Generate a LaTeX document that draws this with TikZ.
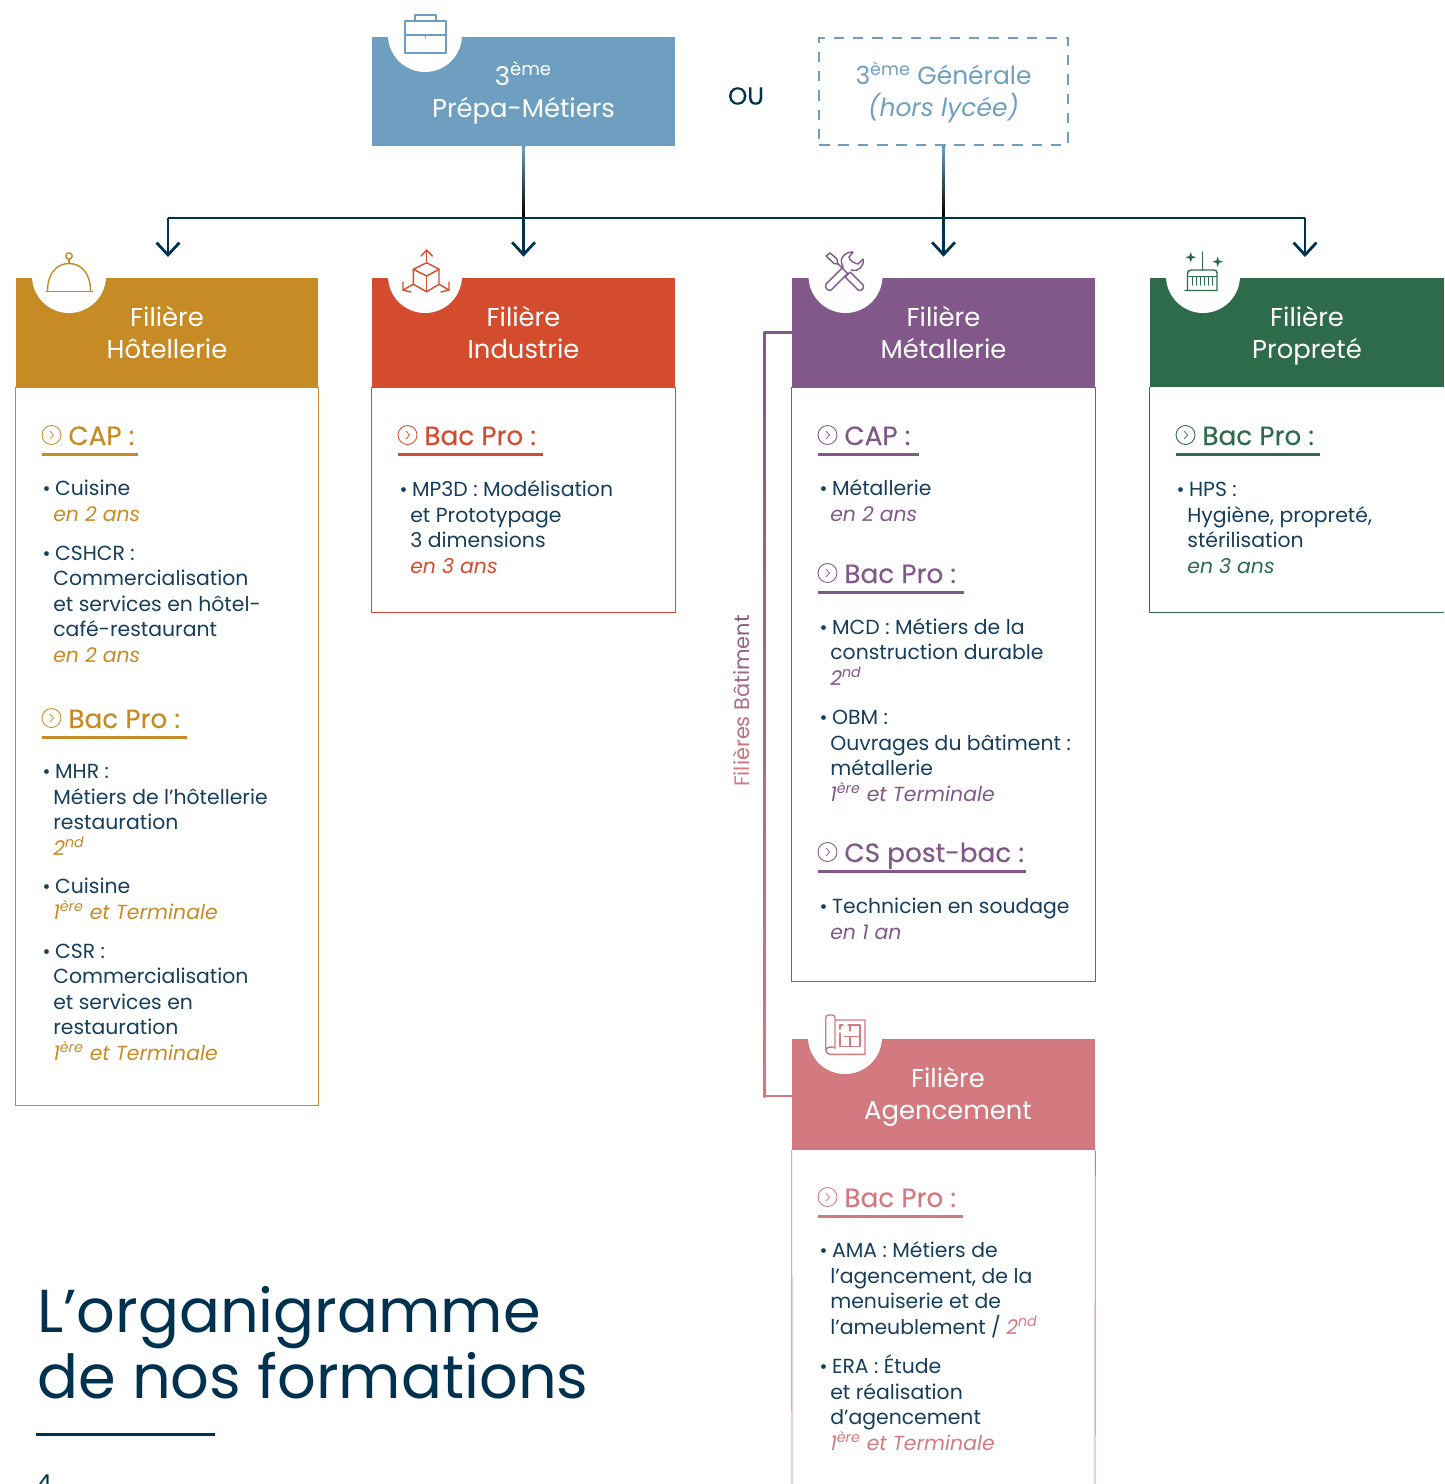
\documentclass[tikz,border=0pt]{standalone}
\usepackage{fontspec}
\setmainfont{Poppins}
\usetikzlibrary{calc, arrows.meta}

\definecolor{bleu}{HTML}{6E9FC1}
\definecolor{ocre}{HTML}{C78B25}
\definecolor{brique}{HTML}{D24C2D}
\definecolor{violet}{HTML}{82578A}
\definecolor{sapin}{HTML}{2D6B4A}
\definecolor{rose}{HTML}{D37A80}
\definecolor{marine}{HTML}{00324F}
\definecolor{encre}{HTML}{163E5C}

\tikzset{
  entete/.style={rectangle, fill=#1, text=white, minimum width=6.04cm, minimum height=2.18cm, inner sep=0pt, align=center, text depth=0pt, font=\fontsize{14.7}{18.2}\selectfont},
  cadre/.style={draw=#1, line width=0.5pt},
  corps/.style={anchor=base west, inner sep=0pt, align=left, text=encre, font=\fontsize{11.6}{14.5}\selectfont, execute at begin node={\colorlet{accent}{#1}}},
  titre/.style={anchor=base west, inner sep=0pt, text=#1, font=\fontsize{15}{18}\selectfont\addfontfeatures{FakeBold=0.3}},
  filet/.style={draw=marine, line width=1.7pt},
  fleche/.style={draw=marine, line width=1.2pt, -{Straight Barb[length=7pt,width=13pt,line width=1.6pt]}, shorten >=0.42cm},
  trait/.style={draw=#1, line width=0.8pt, line join=round, line cap=round}
}

\newcommand{\puce}{\leavevmode\llap{{\fontsize{11}{8}\selectfont\textbullet}\hspace{1.6pt}}\hspace*{1pt}}
\newcommand{\ans}[1]{\textcolor{accent}{\itshape #1}}
\newcommand{\rubrique}[6]{
  \node (#2) [titre=#1] at (#3+26,#4) {#6};
  \draw [draw=#1, line width=0.5pt] (#3+9.5,#4-10) circle (0.19cm);
  \draw [draw=#1, line width=0.4pt] (#3+8,#4-14) -- (#3+11.5,#4-10) -- (#3+8,#4-6);
  \draw [draw=#1, line width=1.4pt] (#3,#4+9.5) -- (#5,#4+9.5);
}

\begin{document}
\begin{tikzpicture}[x=0.02cm, y=-0.02cm]

    \useasboundingbox (0,0) rectangle (1444,1484);

    % en-tetes
    \node (prepa) [entete=bleu, minimum width=6.06cm, text depth=2.3pt] at (523.5,91.5) {3\textsuperscript{ème}\\Prépa-Métiers};
    \node (generale) [draw=bleu, dash pattern=on 6pt off 5pt, line width=1.6pt, minimum width=4.98cm, minimum height=2.14cm, inner sep=0pt, align=center, text=bleu, text depth=2.3pt, font=\fontsize{14.2}{18.2}\selectfont] at (943.5,91.5) {3\textsuperscript{ème} Générale\\\textit{(hors lycée)}};
    \node (ou) [text=marine, font=\fontsize{14}{16}\selectfont\addfontfeatures{FakeBold=0.2}] at (746,96) {OU};

    \node (hotel) [entete=ocre] at (167,332.5) {Filière\\Hôtellerie};
    \node (indus) [entete=brique, minimum width=6.06cm] at (523.5,332.5) {Filière\\Industrie};
    \node (metal) [entete=violet, minimum width=6.06cm] at (943.5,332.5) {Filière\\Métallerie};
    \node (propre) [entete=sapin, minimum width=5.88cm] at (1297,332.5) {\hspace*{11.4pt}Filière\\\hspace*{11.4pt}Propreté};
    \node (agenc) [entete=rose, minimum width=6.06cm, minimum height=2.22cm, text depth=1pt] at (943.5,1094.5) {\hspace*{5.1pt}Filière\\\hspace*{5.1pt}Agencement};

    % cadres
    \draw [cadre=ocre] (hotel.south west) rectangle (318,1105);
    \draw [cadre=brique] (indus.south west) rectangle (675,612);
    \draw [cadre=violet] (metal.south west) rectangle (1095,981);
    \draw [cadre=sapin] (propre.south west) |- (1444,612);
    \draw [cadre=rose] (agenc.south west) -- (792,1484);
    \draw [cadre=rose] (agenc.south east) -- (1095,1484);

    % liaisons
    \coordinate (busG) at (168,218);
    \coordinate (busD) at (1305,218);
    \coordinate (hotelH) at (168,278);
    \coordinate (propreH) at (1305,278);
    \draw [fleche] (prepa.south) -- (indus.north);
    \draw [fleche] (generale.south) -- (metal.north);
    \draw [fleche] (busG) -- (hotelH);
    \draw [fleche] (busD) -- (propreH);
    \draw [filet] (busG) -- (busD);
    \shade [top color=bleu, bottom color=black] ($(prepa.south)+(-1.1,0)$) rectangle ($(prepa.south |- busG)+(1.1,-2)$);
    \shade [top color=bleu, bottom color=black] ($(generale.south)+(-1.1,0)$) rectangle ($(generale.south |- busG)+(1.1,-2)$);

    \draw [draw=rose, line width=1.2pt] (metal.west) -- ++(-27,0) |- ($(agenc.west)+(0,1.5)$);
    \draw [draw=violet, line width=1.2pt] (metal.west) -- ++(-27,0);
    \shade [top color=violet, bottom color=rose] ($(metal.west)+(-28,-1)$) rectangle ($(agenc.west)+(-26,2.5)$);
    \node (batiment) [rotate=90, font=\fontsize{11.9}{12}\selectfont] at (741,701) {\textcolor{rose}{Fil}\textcolor{rose!85!violet}{ièr}\textcolor{rose!70!violet}{es} \textcolor{rose!55!violet}{Bâ}\textcolor{rose!40!violet}{ti}\textcolor{rose!25!violet}{me}\textcolor{rose!10!violet}{nt}};

    % encoches
    \fill [white] (425,35) circle (0.74cm);
    \fill [white] (69,276) circle (0.74cm);
    \fill [white] (425,276) circle (0.74cm);
    \fill [white] (845.5,276) circle (0.74cm);
    \fill [white] (1203,276) circle (0.74cm);
    \fill [white] (845,1037) circle (0.74cm);

    % mallette
    \draw [trait=bleu] (405,21) rectangle (446,53);
    \draw [trait=bleu] (415,21) -- (415,15) -- (436,15) -- (436,21);
    \draw [trait=bleu] (405,35) -- (446,35);
    \draw [trait=bleu] (425.5,35) -- (425.5,38);

    % cloche
    \draw [trait=ocre] (47.5,291) .. controls (47.5,272) and (58,263.5) .. (69,263.5) .. controls (80,263.5) and (90.5,272) .. (90.5,291);
    \draw [trait=ocre] (46,291.5) -- (92.5,291.5);
    \draw [trait=ocre] (69,256) circle (0.065cm);
    \draw [trait=ocre] (69,259.5) -- (69,263.5);

    % cube
    \draw [trait=brique] (426.7,262.7) -- (439,269.3) -- (439,284.3) -- (426.7,291.7) -- (413.3,284.3) -- (413.3,269.3) -- cycle;
    \draw [trait=brique] (413.3,269.3) -- (426.7,276) -- (439,269.3);
    \draw [trait=brique] (426.7,276) -- (426.7,291.7);
    \draw [trait=brique] (426.7,262.7) -- (426.7,251);
    \draw [trait=brique] (421,256) -- (426.7,250) -- (432.4,256);
    \draw [trait=brique] (413.3,284.3) -- (403,290);
    \draw [trait=brique] (403,282) -- (403,290) -- (411,292);
    \draw [trait=brique] (439,284.3) -- (449,290);
    \draw [trait=brique] (449,282) -- (449,290) -- (441,292);

    % outils
    \draw [trait=violet] (826,256) -- (830,253) -- (837,259) -- (838,264) -- (834,263.5) -- cycle;
    \draw [trait=violet] (837,263) -- (848,274);
    \draw [trait=violet] (850,272) -- (863,285) .. controls (865,288) and (861,292) .. (858,290) -- (845,277) -- cycle;
    \draw [trait=violet] (843,267) -- (826,284) .. controls (824,287) and (828,292) .. (831,290) -- (848,273);
    \draw [trait=violet] (843,267) .. controls (838,258) and (845,252) .. (853,252) -- (849,257) .. controls (850,262) and (855,263) .. (858,264) -- (863,259) .. controls (865,266) and (857,273) .. (851,270);

    % balai
    \draw [trait=sapin] (1202.7,252) -- (1202.7,270);
    \draw [trait=sapin] (1185,290.5) -- (1217,290.5) -- (1217,273) .. controls (1217,271) and (1216,270) .. (1214,270) -- (1191,270) .. controls (1188,270) and (1187.5,272) .. (1187.5,274) -- (1187.5,290.5);
    \draw [trait=sapin] (1187.5,276.7) -- (1217,276.7);
    \foreach \xb in {1192.5,1196.5,1200.5,1204.5,1208.5,1212.5}
        \draw [trait=sapin] (\xb,276.7) -- (\xb,285);
    \fill [sapin] (1190.7,252) -- (1192,256) -- (1196,257.3) -- (1192,258.6) -- (1190.7,262.6) -- (1189.4,258.6) -- (1185.4,257.3) -- (1189.4,256) -- cycle;
    \fill [sapin] (1217.7,256.4) -- (1219,260.4) -- (1223,261.7) -- (1219,263) -- (1217.7,267) -- (1216.4,263) -- (1212.4,261.7) -- (1216.4,260.4) -- cycle;

    % plan
    \draw [trait=rose] (835,1020) -- (865,1020) -- (865,1054.3) -- (830,1054.3) .. controls (827,1054.3) and (825.7,1052) .. (825.7,1050) -- (825.7,1018) .. controls (825.7,1016) and (827,1015) .. (829,1015) -- (832,1015) .. controls (834,1015) and (835,1016) .. (835,1018) -- (835,1048);
    \draw [trait=rose] (825.7,1050) .. controls (826,1047) and (832,1046) .. (835,1048);
    \draw [trait=rose] (843,1025) -- (840,1025) -- (840,1029);
    \draw [trait=rose] (840,1033) -- (840,1046.7) -- (860,1046.7) -- (860,1025) -- (848,1025);
    \draw [trait=rose] (844,1036.7) -- (860,1036.7);
    \draw [trait=rose] (850,1036.7) -- (850,1046.7);
    \draw [trait=rose] (850,1025) -- (850,1031);

    % hotellerie
    \rubrique{ocre}{capH}{42}{445}{138}{CAP :}
    \node (cuisineH) [corps=ocre] at (53,521) {\puce Cuisine\\\ans{en 2 ans}};
    \node (cshcr) [corps=ocre] at (53,662) {\puce CSHCR :\\Commercialisation\\et services en hôtel-\\café-restaurant\\\ans{en 2 ans}};
    \rubrique{ocre}{bacH}{42}{728}{187}{Bac Pro :}
    \node (mhr) [corps=ocre] at (53,855) {\puce MHR :\\Métiers de l’hôtellerie\\restauration\\\ans{2\textsuperscript{nd}}};
    \node (cuisineT) [corps=ocre] at (53,919) {\puce Cuisine\\\ans{1\textsuperscript{ère} et Terminale}};
    \node (csr) [corps=ocre] at (53,1060) {\puce CSR :\\Commercialisation\\et services en\\restauration\\\ans{1\textsuperscript{ère} et Terminale}};

    % industrie
    \rubrique{brique}{bacI}{398}{445}{543}{Bac Pro :}
    \node (mp3d) [corps=brique] at (410,573) {\puce MP3D : Modélisation\\et Prototypage\\3 dimensions\\\ans{en 3 ans}};

    % metallerie
    \rubrique{violet}{capM}{818}{445}{919}{CAP :}
    \node (metallerie) [corps=violet] at (830,521) {\puce Métallerie\\\ans{en 2 ans}};
    \rubrique{violet}{bacM}{818}{583}{964}{Bac Pro :}
    \node (mcd) [corps=violet] at (830,685) {\puce MCD : Métiers de la\\construction durable\\\ans{2\textsuperscript{nd}}};
    \node (obm) [corps=violet] at (830,801) {\puce OBM :\\Ouvrages du bâtiment :\\métallerie\\\ans{1\textsuperscript{ère} et Terminale}};
    \rubrique{violet}{postbac}{818}{862}{1026}{CS post-bac :}
    \node (soudage) [corps=violet] at (830,939) {\puce Technicien en soudage\\\ans{en 1 an}};

    % proprete
    \rubrique{sapin}{bacP}{1176}{445}{1320}{Bac Pro :}
    \node (hps) [corps=sapin] at (1187,573) {\puce HPS :\\Hygiène, propreté,\\stérilisation\\\ans{en 3 ans}};

    % agencement
    \rubrique{rose}{bacA}{818}{1207}{963}{Bac Pro :}
    \node (ama) [corps=rose] at (830,1334) {\puce AMA : Métiers de\\l’agencement, de la\\menuiserie et de\\l’ameublement / \ans{2\textsuperscript{nd}}};
    \node (era) [corps=rose] at (830,1450) {\puce ERA : Étude\\et réalisation\\d’agencement\\\ans{1\textsuperscript{ère} et Terminale}};

    % titre
    \node (organi) [anchor=base west, inner sep=0pt, align=left, text=marine, font=\fontsize{34.5}{37.5}\selectfont] at (37,1398) {L’organigramme\\de nos formations};
    \coordinate (regleG) at (36,1434);
    \coordinate (regleD) at (215,1434);
    \draw [filet] (regleG) -- (regleD);
    \node (page) [anchor=base west, inner sep=0pt, text=marine, font=\fontsize{14}{16}\selectfont] at (36,1492) {4};

\end{tikzpicture}
\end{document}
